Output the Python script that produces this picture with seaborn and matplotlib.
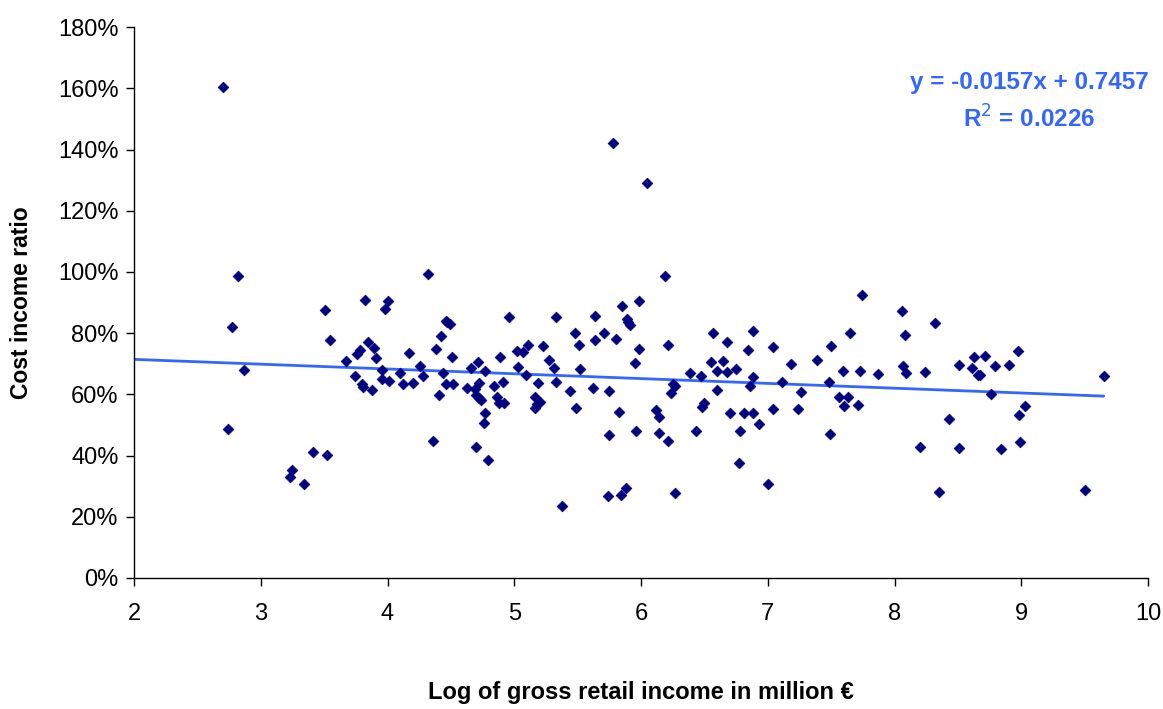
import numpy as np
import pandas as pd
import matplotlib
matplotlib.use("Agg")
import matplotlib.pyplot as plt
import seaborn as sns
from matplotlib.ticker import PercentFormatter, MultipleLocator

# Data
log_income = [2.70, 2.82, 2.77, 2.87, 2.74, 3.41, 3.52, 3.25, 3.23, 3.34,
              3.51, 3.55, 3.82, 4.00, 3.98, 3.85, 3.89, 3.91, 3.78, 3.76,
              3.67, 3.74, 3.80, 3.81, 3.88, 3.96, 3.96, 4.01, 4.32, 4.10,
              4.12, 4.20, 4.17, 4.26, 4.28, 4.38, 4.42, 4.46, 4.47, 4.49,
              4.51, 4.44, 4.46, 4.52, 4.41, 4.36, 4.66, 4.71, 4.77, 4.63,
              4.69, 4.72, 4.70, 4.72, 4.74, 4.77, 4.76, 4.70, 4.79, 4.89,
              4.96, 4.84, 4.91, 4.86, 4.88, 4.92, 5.02, 5.07, 5.11, 5.03,
              5.09, 5.19, 5.16, 5.20, 5.18, 5.16, 5.23, 5.27, 5.31, 5.33,
              5.33, 5.38, 5.44, 5.49, 5.48, 5.51, 5.52, 5.62, 5.64, 5.64,
              5.71, 5.80, 5.75, 5.83, 5.75, 5.85, 5.98, 5.89, 5.90, 5.91,
              5.98, 5.95, 5.96, 6.12, 6.14, 6.14, 5.74, 5.84, 5.88, 5.78,
              6.05, 6.19, 6.21, 6.25, 6.27, 6.24, 6.21, 6.27, 6.39, 6.47,
              6.55, 6.57, 6.60, 6.65, 6.68, 6.68, 6.75, 6.60, 6.48, 6.50,
              6.43, 6.70, 6.78, 6.77, 6.84, 6.88, 6.88, 6.86, 6.81, 6.88,
              6.93, 7.00, 7.04, 7.11, 7.04, 7.18, 7.24, 7.26, 7.39, 7.48,
              7.49, 7.50, 7.59, 7.56, 7.63, 7.60, 7.71, 7.65, 7.74, 7.73,
              7.87, 8.06, 8.08, 8.07, 8.09, 8.32, 8.24, 8.51, 8.61, 8.63,
              8.71, 8.66, 8.67, 8.79, 8.90, 8.97, 8.76, 9.03, 8.98, 8.43,
              8.20, 8.51, 8.84, 8.99, 8.35, 9.50, 9.65]
cost_income_pct = [160.4, 98.7, 82.1, 68.1, 48.8, 41.1, 40.2, 35.2, 33.0, 30.7,
                   87.5, 77.6, 90.7, 90.4, 87.8, 77.2, 75.0, 71.8, 74.5, 73.2,
                   70.9, 66.0, 63.3, 62.5, 61.3, 68.0, 64.9, 64.5, 99.3, 67.1,
                   63.3, 63.6, 73.6, 69.3, 66.0, 74.9, 79.0, 84.1, 83.5, 82.9,
                   72.2, 67.1, 63.3, 63.3, 59.7, 44.8, 68.5, 70.5, 67.6, 62.0,
                   61.6, 63.6, 59.8, 58.9, 58.2, 53.8, 50.6, 42.9, 38.4, 72.2,
                   85.3, 62.8, 64.1, 59.0, 57.3, 57.3, 74.2, 73.9, 76.2, 69.0,
                   66.3, 63.6, 59.2, 57.4, 56.7, 55.5, 75.8, 71.3, 68.6, 85.3,
                   64.1, 23.5, 61.0, 55.6, 79.9, 76.2, 68.2, 62.0, 85.7, 77.7,
                   79.9, 78.1, 61.0, 54.1, 46.6, 88.9, 90.6, 84.5, 83.5, 82.8,
                   74.9, 70.3, 47.9, 54.8, 52.7, 47.5, 26.7, 27.2, 29.4, 142.0,
                   128.9, 98.8, 76.2, 63.4, 62.7, 60.4, 44.8, 27.7, 66.9, 66.0,
                   70.5, 79.9, 67.7, 71.0, 77.2, 67.2, 68.3, 61.4, 56.0, 57.1,
                   47.9, 53.8, 47.9, 37.6, 74.5, 80.8, 65.7, 62.7, 53.8, 53.8,
                   50.2, 30.8, 75.4, 64.1, 55.1, 70.0, 55.1, 60.9, 71.3, 64.1,
                   47.0, 75.8, 67.7, 59.2, 59.2, 56.1, 56.5, 79.9, 92.5, 67.7,
                   66.7, 87.1, 79.5, 69.2, 66.9, 83.4, 67.3, 69.5, 68.7, 72.3,
                   72.6, 66.3, 66.3, 69.2, 69.5, 74.1, 60.0, 56.1, 53.2, 51.9,
                   42.9, 42.5, 42.0, 44.3, 28.1, 28.7, 65.9]

# Trendline as stated on the chart
slope = -0.0157
intercept = 0.7457
r_squared = 0.0226
trend_x = [2.0, 9.65]

x_ticks = [2, 3, 4, 5, 6, 7, 8, 9, 10]

sns.set_theme(style="white")
plt.rcParams['font.family'] = ['Liberation Sans', 'DejaVu Sans']
plt.rcParams['text.color'] = 'black'
plt.rcParams['axes.labelcolor'] = 'black'

df = pd.DataFrame({"x": log_income, "y": cost_income_pct})
trend_df = pd.DataFrame({"x": trend_x,
                         "y": [100 * (slope * v + intercept) for v in trend_x]})

fig = plt.figure(figsize=(11.63, 7.09), dpi=100)
ax = fig.add_axes([0.1152, 0.1848, 0.872, 0.777])

sns.lineplot(data=trend_df, x="x", y="y", ax=ax, color="#3366FF", linewidth=2)
sns.scatterplot(data=df, x="x", y="y", ax=ax, marker="D", s=30,
                color="#000080", edgecolor="#000080", linewidth=0.5, zorder=3)

ax.set_xlim(2, 10)
ax.set_ylim(0, 180)
ax.set_xticks(x_ticks)
ax.yaxis.set_major_locator(MultipleLocator(20))
ax.yaxis.set_major_formatter(PercentFormatter(100, decimals=0))

for side in ["top", "right"]:
    ax.spines[side].set_visible(False)
for side in ["left", "bottom"]:
    ax.spines[side].set_color("black")
    ax.spines[side].set_linewidth(1)

ax.tick_params(axis="both", which="major", direction="out", length=6, width=1,
               color="black", labelsize=17, labelcolor="black", bottom=True, left=True)
ax.tick_params(axis="x", pad=12)
ax.tick_params(axis="y", pad=5)

ax.set_xlabel("Log of gross retail income in million €", fontsize=17,
              fontweight="bold", labelpad=40, color="black")
ax.set_ylabel("Cost income ratio", fontsize=16.5, fontweight="bold", labelpad=18,
              color="black")

fig.text(0.885, 0.884, "y = -0.0157x + 0.7457", color="#3366FF", fontsize=17.5,
         fontweight="bold", ha="center", va="center")
fig.text(0.885, 0.832, "R$^{2}$ = 0.0226", color="#3366FF", fontsize=17.5,
         fontweight="bold", ha="center", va="center")

fig.savefig("out.png", dpi=100, facecolor="white")
